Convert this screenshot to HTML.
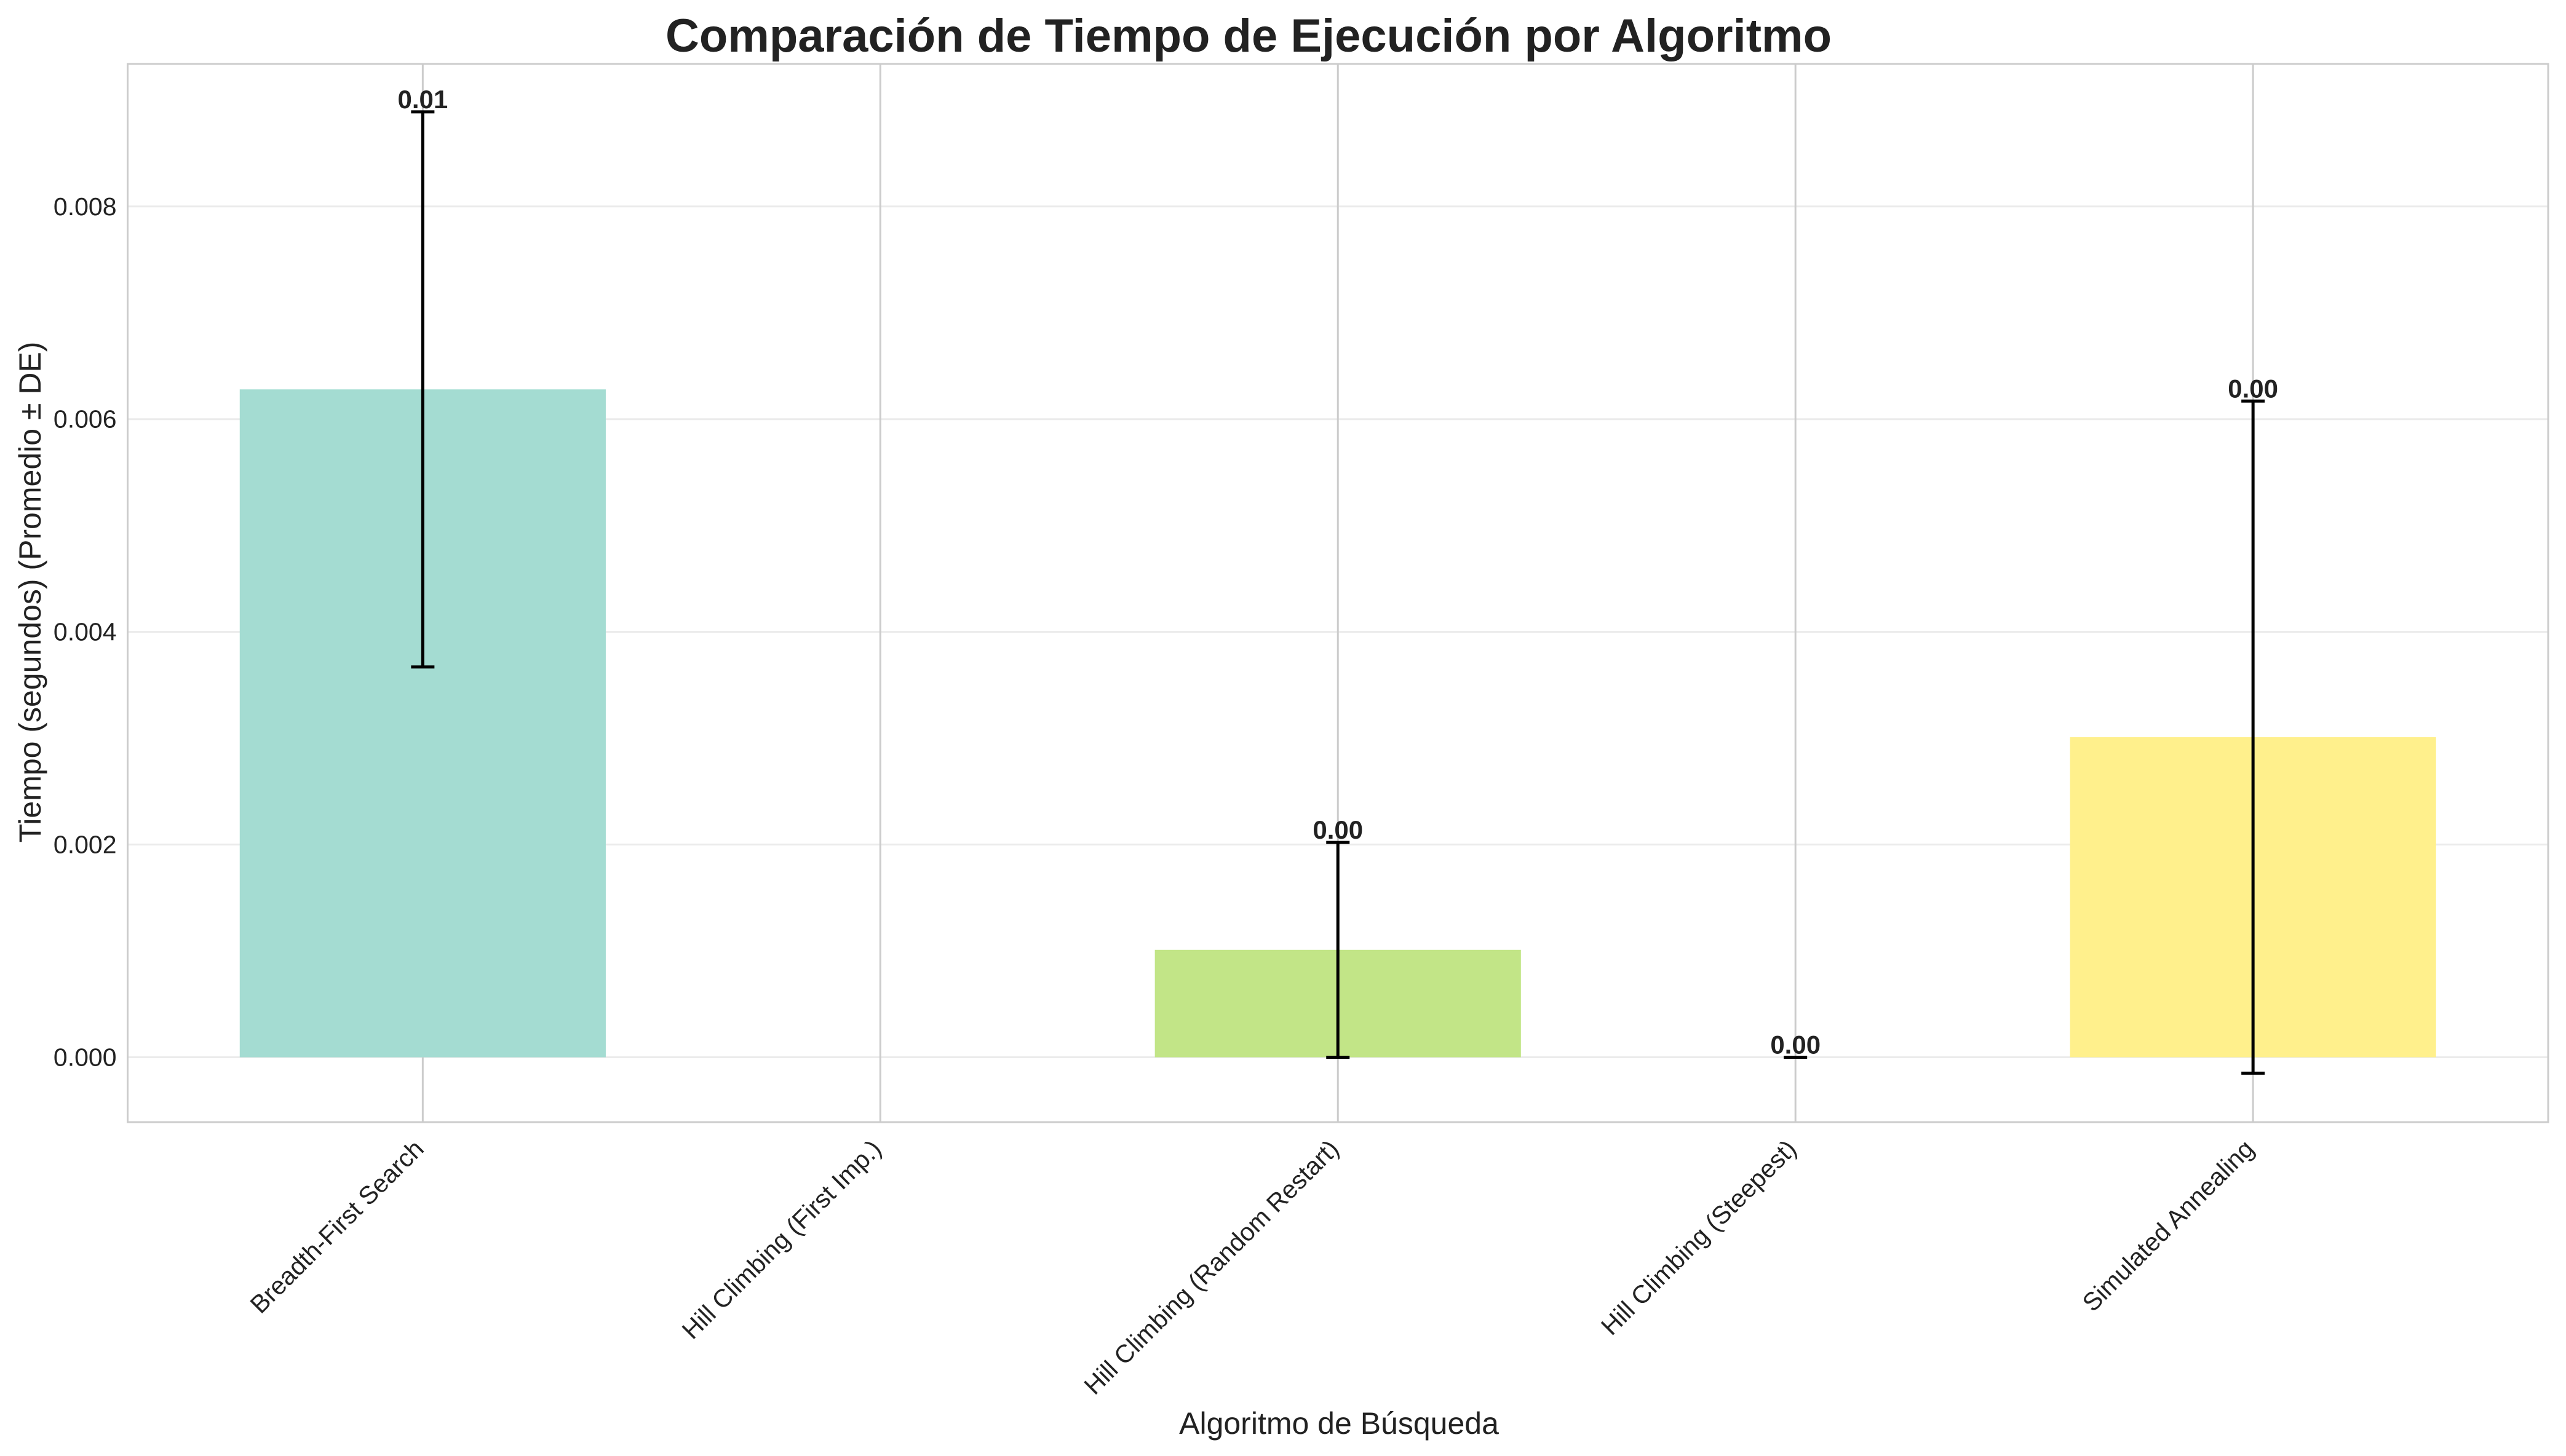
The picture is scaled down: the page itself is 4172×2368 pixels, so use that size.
<!DOCTYPE html>
<html><head><meta charset="utf-8"><style>
html,body{margin:0;padding:0;background:#fff;}
svg{display:block;font-family:"Liberation Sans","DejaVu Sans",sans-serif;}
</style></head><body>
<svg id="chart" width="4172" height="2368" viewBox="0 0 4172 2368">
<rect x="0" y="0" width="4172" height="2368" fill="#fff"/>
<text x="2030" y="84" text-anchor="middle" font-size="76" font-weight="bold" fill="#222">Comparación de Tiempo de Ejecución por Algoritmo</text>
<g id="grid"></g>
<g id="bars"></g>
<g id="errs"></g>
<g id="labels"></g>
<g id="xticks"></g>
<g id="yticks"></g>
<rect x="207.5" y="104" width="3935.5" height="1721" fill="none" stroke="#cccccc" stroke-width="3"/>
<text x="0" y="0" transform="translate(66,963) rotate(-90)" text-anchor="middle" font-size="50" fill="#222">Tiempo (segundos) (Promedio ± DE)</text>
<text x="2177" y="2332" text-anchor="middle" font-size="50" fill="#222">Algoritmo de Búsqueda</text>
</svg>
<script>
const categories = ["Breadth-First Search","Hill Climbing (First Imp.)","Hill Climbing (Random Restart)","Hill Climbing (Steepest)","Simulated Annealing"];
const means = [0.00628, 0, 0.00101, 0, 0.00301];
const stds = [0.00261, null, 0.00101, 0, 0.00316];
const valueLabels = ["0.01", "", "0.00", "0.00", "0.00"];
const yTicks = [0, 0.002, 0.004, 0.006, 0.008];
const yTickLabels = ["0.000","0.002","0.004","0.006","0.008"];
const colors = ["#a4dcd2","#d9e6c8","#c2e587","#e8eeb0","#fff08c"];

const NS="http://www.w3.org/2000/svg";
const L=207.5,R=4143,T=104,B=1825;
const yMin=-0.00061,yMax=0.00934;
function y(v){return B-(v-yMin)/(yMax-yMin)*(B-T);}
const pad=0.645;
const step=(R-L)/(categories.length-1+2*pad);
function x(i){return L + step*pad + i*step;}
function mk(tag,attrs,parent){const e=document.createElementNS(NS,tag);for(const k in attrs)e.setAttribute(k,attrs[k]);document.getElementById(parent).appendChild(e);return e;}

yTicks.forEach((t,i)=>{
  const g=mk('line',{x1:L,x2:R,y1:y(t),y2:y(t),stroke:'#ebebeb','stroke-width':3},'grid');
  
  
  const tx=mk('text',{x:L-18,y:y(t)+14,'text-anchor':'end','font-size':41,fill:'#222'},'yticks');
  tx.textContent=yTickLabels[i];
  
  
});
categories.forEach((c,i)=>{
  const g=mk('line',{x1:x(i),x2:x(i),y1:T,y2:B,stroke:'#cccccc','stroke-width':3},'grid');
  
  
  const bw=step*0.8;
  const top=Math.min(y(means[i]),y(0)),h=Math.abs(y(0)-y(means[i]));
  if(h>0){
    const b=mk('rect',{x:x(i)-bw/2,y:top,width:bw,height:h,fill:colors[i]},'bars');
    
    
  }
  if(stds[i]!==null){
    const hi=y(means[i]+stds[i]),lo=y(means[i]-stds[i]);
    const e=mk('path',{d:`M${x(i)},${hi}V${lo}M${x(i)-19},${hi}H${x(i)+19}M${x(i)-19},${lo}H${x(i)+19}`,stroke:'#000','stroke-width':5,fill:'none'},'errs');
    
    
    const tx=mk('text',{x:x(i),y:hi-6,'text-anchor':'middle','font-size':42,'font-weight':'bold',fill:'#222'},'labels');
    tx.textContent=valueLabels[i];
    
    
  }
  const xl=mk('text',{x:0,y:0,transform:`translate(${x(i)+4},${B+46}) rotate(-45)`,'text-anchor':'end','font-size':41,fill:'#222'},'xticks');
  xl.textContent=c;
  
  
});
</script>
</body></html>
